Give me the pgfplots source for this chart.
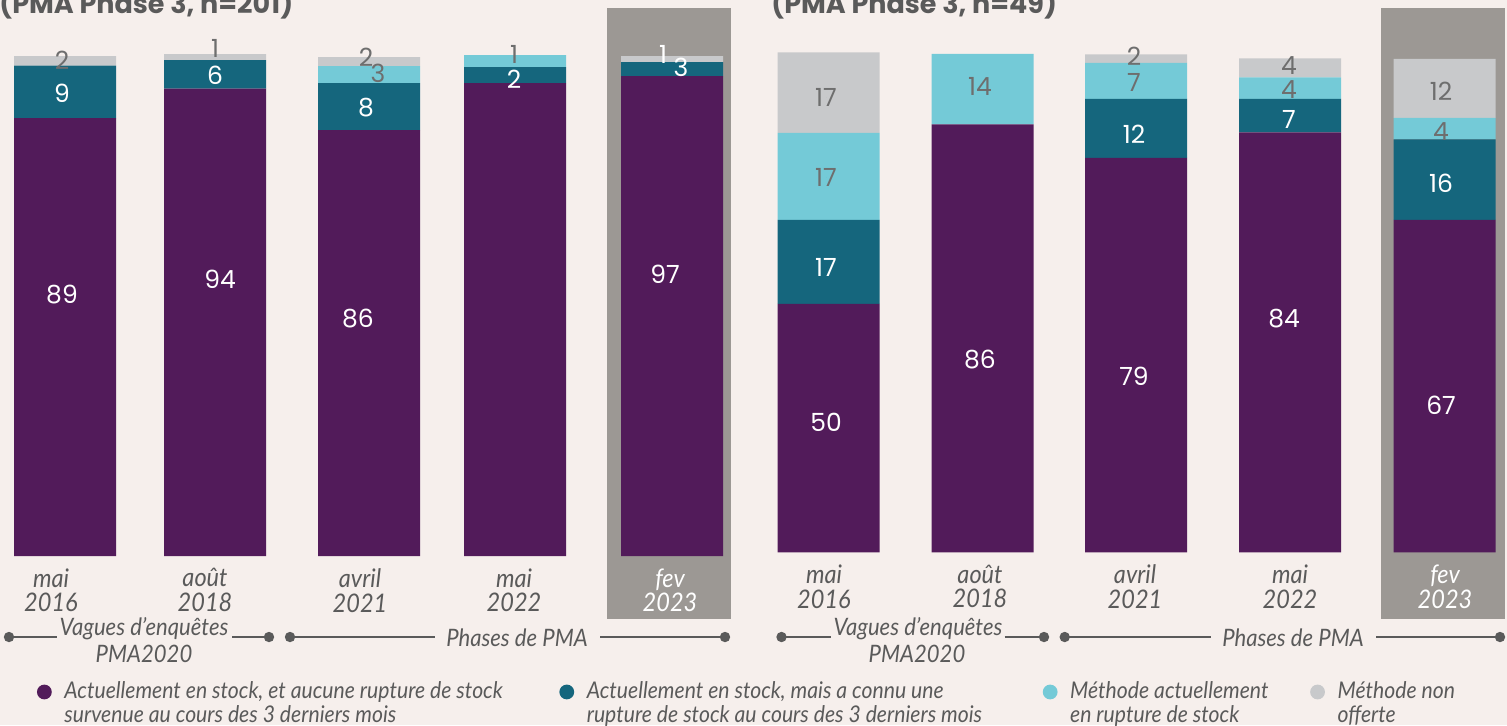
\documentclass[border=0pt]{standalone}
\usepackage{fontspec}
\setmainfont{Lato}
\newfontfamily\numfont{Poppins}
\newfontfamily\itfont{Lato}[FakeStretch=0.92]
\usepackage{pgfplots}
\pgfplotsset{compat=1.18}
\definecolor{bg}{HTML}{F6EFEC}
\definecolor{cpurple}{HTML}{521B5A}
\definecolor{cteal}{HTML}{15667D}
\definecolor{clblue}{HTML}{74CAD7}
\definecolor{cgray}{HTML}{C8C9CB}
\definecolor{hl}{HTML}{9C9894}
\definecolor{txt}{HTML}{5A5A5A}
\definecolor{numgray}{HTML}{6E6E6E}

\pgfplotstableread{
x     p     t     l     g
65.1  87.6  10.5  0     1.9
215   93.5  5.7   0     1.2
369   85.2  9.4   3.4   1.8
515   94.6  3.2   2.4   0
672   96.0  2.8   0     1.2
}\leftdata
\pgfplotstableread{
x      p     t     l     g
828.5  49.7  16.8  17.4  16.1
982.5  85.6  0     14.1  0
1136   78.9  11.8  7.2   1.7
1290   84.0  6.7   4.3   3.8
1444.5 66.5  16.1  4.3   11.8
}\rightdata
\pgfplotstableread{
x    y     lab
62   92.6  9
62   52.2  89
215  96.2  6
220  55.4  94
366  89.6  8
358  47.4  86
514  95.4  2
663  100.4 1
681  97.8  3
665  56.4  97
}\leftwhite
\pgfplotstableread{
x    y     lab
62   99.2  2
215  101.6 1
366  99.8  2
378  96.6  3
514  100.4 1
}\leftgray
\pgfplotstableread{
x     y     lab
826   57.0  17
826   25.9  50
980   38.5  86
1134  83.7  12
1134  35.3  79
1289  86.5  7
1284  46.7  84
1441  73.8  16
1441  29.5  67
}\rightwhite
\pgfplotstableread{
x     y     lab
826   90.9  17
826   75.0  17
980   93.1  14
1134  99.3  2
1134  93.9  7
1289  97.3  4
1289  92.6  4
1441  92.2  12
1441  84.1  4
}\rightgray

\pgfplotsset{
  dotlegend/.style={legend image code/.code={\fill[draw=none] (0pt,0pt) circle (3.7pt);}},
  panel/.style={
    scale only axis, height=250pt, ymin=0, ymax=100,
    ybar stacked, bar width=102, clip=false,
    axis line style={draw=none}, tick style={draw=none}, major tick length=0pt,
    ytick=\empty,
    xticklabel style={font=\itfont\itshape\fontsize{12.8}{12.4}\selectfont, text=txt, align=center, anchor=north, inner sep=0pt, yshift=-6pt},
  },
  labaxis/.style={scale only axis, height=250pt, ymin=0, ymax=100, clip=false, hide axis},
  bars/.style={fill=#1, draw=none, dotlegend},
  lab/.style={only marks, mark=*, mark size=0pt, mark options={draw=none, fill=none},
    nodes near coords, point meta=explicit symbolic,
    nodes near coords style={anchor=center, inner sep=0pt, text=#1, font=\numfont\fontsize{12.5}{12.5}\selectfont}},
}

\begin{document}
\begin{tikzpicture}
\fill[bg] (0pt,0pt) rectangle (753.5pt,-362.5pt);
\fill[hl] (303.5pt,-4pt) rectangle (365.5pt,-309.65pt);
\fill[hl] (690.5pt,-4pt) rectangle (752.5pt,-309.65pt);

\begin{scope}
\clip (0pt,0pt) rectangle (753.5pt,-362.5pt);
\node[anchor=base west, inner sep=0pt, text=txt, font=\numfont\bfseries\fontsize{13.5}{13.5}\selectfont] at (-0.5pt,-6.5pt) {(PMA Phase 3, n=201)};
\node[anchor=base west, inner sep=0pt, text=txt, font=\numfont\bfseries\fontsize{13.5}{13.5}\selectfont] at (385.5pt,-6.5pt) {(PMA Phase 3, n=49)};
\end{scope}

\begin{axis}[panel, at={(0pt,-278pt)}, anchor=south west,
  width=375pt, xmin=0, xmax=750,
  xtick={51,205,360,514,670},
  xticklabels={{mai\\2016},{août\\2018},{avril\\2021},{mai\\2022},{\textcolor{white}{fev}\\\textcolor{white}{2023}}},
  legend columns=4,
  legend cell align=left,
  legend style={draw=none, fill=none, inner sep=0pt, outer sep=0pt,
    at={(axis description cs:0.0493,-0.252)}, anchor=north west,
    font=\itfont\itshape\fontsize{11.5}{12}\selectfont, text=txt,
    nodes={inner sep=0pt},
    column sep=0pt,
    /tikz/every odd column/.append style={column sep=6.3pt}},
]
\addplot[bars=cpurple] table[x=x,y=p]{\leftdata};
\addplot[bars=cteal] table[x=x,y=t]{\leftdata};
\addplot[bars=clblue] table[x=x,y=l]{\leftdata};
\addplot[bars=cgray] table[x=x,y=g]{\leftdata};
\addlegendentry{\parbox[t]{247.5pt}{\raggedright Actuellement en stock, et aucune rupture de stock\\survenue au cours des 3 derniers mois}}
\addlegendentry{\parbox[t]{228pt}{\raggedright Actuellement en stock, mais a connu une\\rupture de stock au cours des 3 derniers mois}}
\addlegendentry{\parbox[t]{120pt}{\raggedright Méthode actuellement\\en rupture de stock}}
\addlegendentry{\parbox[t]{70pt}{\raggedright Méthode non\\offerte}}
\end{axis}
\begin{axis}[labaxis, at={(0pt,-278pt)}, anchor=south west, width=375pt, xmin=0, xmax=750]
\addplot[lab=white] table[x=x,y=y,meta=lab]{\leftwhite};
\addplot[lab=numgray] table[x=x,y=y,meta=lab]{\leftgray};
\end{axis}

\begin{axis}[panel, at={(375pt,-276.15pt)}, anchor=south west,
  width=378.5pt, xmin=750, xmax=1507,
  xtick={824,980,1135,1290,1445},
  xticklabels={{mai\\2016},{août\\2018},{avril\\2021},{mai\\2022},{\textcolor{white}{fev}\\\textcolor{white}{2023}}},
]
\addplot[bars=cpurple] table[x=x,y=p]{\rightdata};
\addplot[bars=cteal] table[x=x,y=t]{\rightdata};
\addplot[bars=clblue] table[x=x,y=l]{\rightdata};
\addplot[bars=cgray] table[x=x,y=g]{\rightdata};
\end{axis}
\begin{axis}[labaxis, at={(375pt,-276.15pt)}, anchor=south west, width=378.5pt, xmin=750, xmax=1507]
\addplot[lab=white] table[x=x,y=y,meta=lab]{\rightwhite};
\addplot[lab=numgray] table[x=x,y=y,meta=lab]{\rightgray};
\end{axis}

\begin{scope}[x=0.5pt, y=-0.5pt]
\tikzset{brk/.style={draw=txt, line width=1.3pt}}
\draw[brk] (9,637) -- (57,637);
\draw[brk] (232,637) -- (269,637);
\draw[brk] (290,637) -- (435,637);
\draw[brk] (600,637) -- (725,637);
\draw[brk] (781.5,637) -- (831,637);
\draw[brk] (1004.5,637) -- (1044,637);
\draw[brk] (1064.7,637) -- (1211,637);
\draw[brk] (1376,637) -- (1500,637);
\foreach \xx in {9,269,290,725,781.5,1044,1064.7,1500} {\fill[txt] (\xx,637) circle (2.6pt);}
\tikzset{grp/.style={anchor=base, inner sep=0pt, text=txt, font=\itfont\itshape\fontsize{12}{12}\selectfont}}
\node[grp] at (144,635) {Vagues d’enquêtes};
\node[grp] at (144,662) {PMA2020};
\node[grp] at (517,646) {Phases de PMA};
\node[grp] at (918,635) {Vagues d’enquêtes};
\node[grp] at (917,662) {PMA2020};
\node[grp] at (1293,646) {Phases de PMA};
\end{scope}
\pgfresetboundingbox
\useasboundingbox (0pt,0pt) rectangle (753.5pt,-362.5pt);
\end{tikzpicture}
\end{document}
